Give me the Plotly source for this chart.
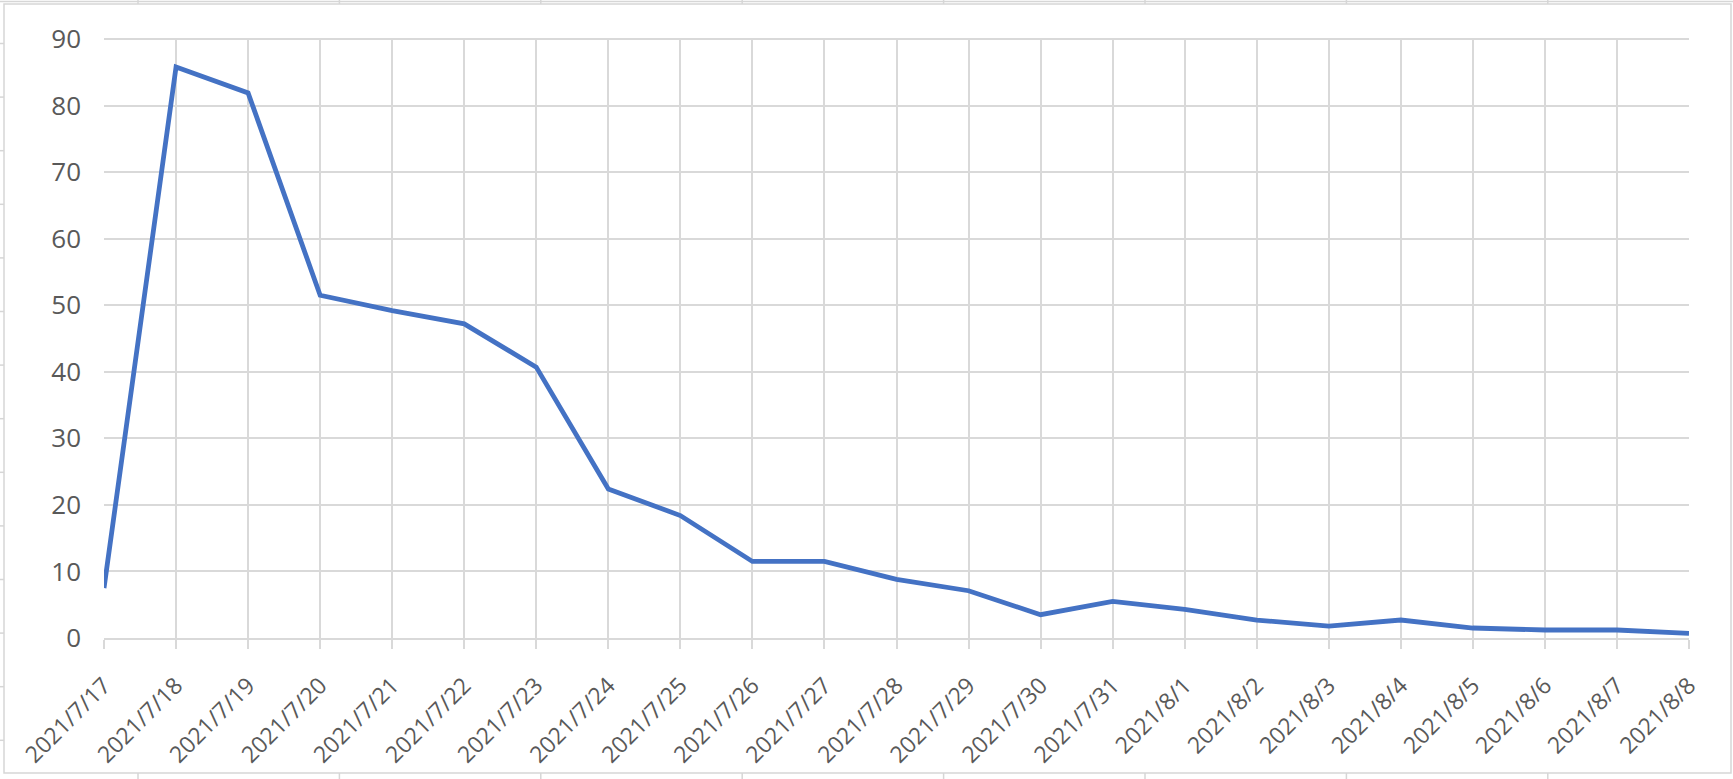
import plotly.graph_objects as go

dates = ["2021/7/17", "2021/7/18", "2021/7/19", "2021/7/20", "2021/7/21", "2021/7/22",
         "2021/7/23", "2021/7/24", "2021/7/25", "2021/7/26", "2021/7/27", "2021/7/28",
         "2021/7/29", "2021/7/30", "2021/7/31", "2021/8/1", "2021/8/2", "2021/8/3",
         "2021/8/4", "2021/8/5", "2021/8/6", "2021/8/7", "2021/8/8"]
values = [7.5, 85.8, 81.9, 51.5, 49.2, 47.2, 40.7, 22.4, 18.4, 11.5, 11.5, 8.8,
          7.1, 3.5, 5.5, 4.3, 2.7, 1.8, 2.7, 1.5, 1.2, 1.2, 0.7]
y_ticks = [0, 10, 20, 30, 40, 50, 60, 70, 80, 90]

W, H = 1733, 779
L, R, T, B = 104, 44, 39, 141
PW, PH = W - L - R, H - T - B

def px(x):
    return (x - L) / PW

def py(y):
    return (H - B - y) / PH

fig = go.Figure()
fig.add_trace(go.Scatter(
    x=dates, y=values, mode="lines",
    line=dict(color="#4472C4", width=4.8),
    hoverinfo="x+y",
))

grid = "#d9d9d9"
cell = "#d6d6d6"
shapes = []
# top border of plot area
shapes.append(dict(type="line", xref="paper", yref="paper", x0=0, x1=1, y0=1, y1=1,
                   line=dict(color=grid, width=2), layer="below"))
# chart frame
shapes.append(dict(type="rect", xref="paper", yref="paper",
                   x0=px(4), x1=px(1731), y0=py(773), y1=py(4),
                   line=dict(color=cell, width=1.5), layer="below"))
# spreadsheet cell lines outside the frame
shapes.append(dict(type="line", xref="paper", yref="paper",
                   x0=px(0), x1=px(W), y0=py(1.5), y1=py(1.5),
                   line=dict(color=cell, width=1.5)))
for k in range(8):
    cx = 138 + 201.4 * k
    shapes.append(dict(type="line", xref="paper", yref="paper",
                       x0=px(cx), x1=px(cx), y0=py(0), y1=py(4),
                       line=dict(color=cell, width=1.5)))
    shapes.append(dict(type="line", xref="paper", yref="paper",
                       x0=px(cx), x1=px(cx), y0=py(773), y1=py(H),
                       line=dict(color=cell, width=1.5)))
for k in range(14):
    ry = 43.5 + 53.6 * k
    shapes.append(dict(type="line", xref="paper", yref="paper",
                       x0=px(0), x1=px(4), y0=py(ry), y1=py(ry),
                       line=dict(color=cell, width=1.5)))

fig.update_layout(
    width=W, height=H,
    margin=dict(l=L, r=R, t=T, b=B, autoexpand=False),
    paper_bgcolor="white", plot_bgcolor="white",
    showlegend=False,
    shapes=shapes,
    font=dict(family="Open Sans", size=25, color="#595959"),
    xaxis=dict(
        type="category", range=[0, len(dates) - 1], automargin=False,
        showgrid=True, gridcolor=grid, gridwidth=2,
        ticks="outside", ticklen=9, tickcolor=grid, tickwidth=2,
        tickangle=-45, showline=True, linecolor=grid, linewidth=2,
        tickfont=dict(family="Open Sans", size=23, color="#595959"),
        ticklabelstandoff=14,
        zeroline=False, mirror=False,
    ),
    yaxis=dict(
        range=[0, 90], tickvals=y_ticks, automargin=False,
        showgrid=True, gridcolor=grid, gridwidth=2,
        ticks="", showline=False, zeroline=False,
        tickfont=dict(family="Open Sans", size=26, color="#595959"),
        ticklabelstandoff=22,
    ),
)

fig.write_html("out.html", config={"displayModeBar": False},
               post_script="document.body.style.margin='0';")
